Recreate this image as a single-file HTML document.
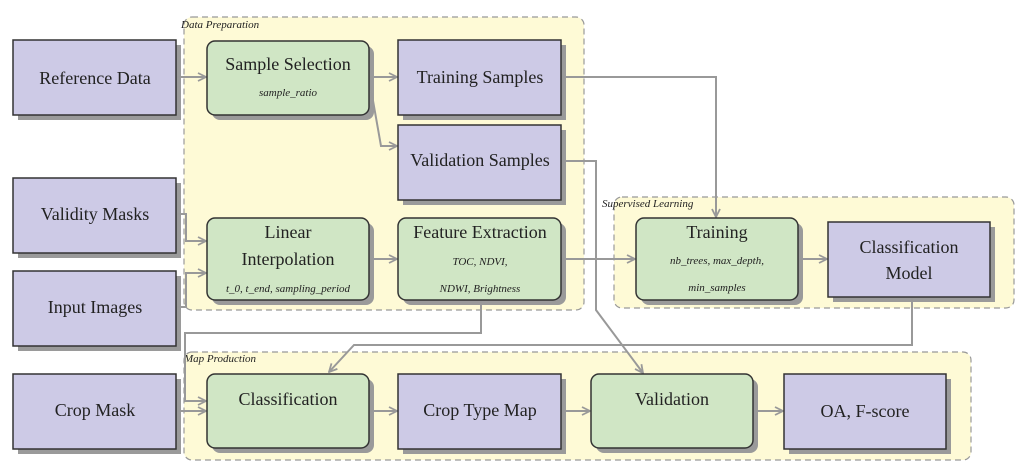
<!DOCTYPE html>
<html><head><meta charset="utf-8"><style>
html,body{margin:0;padding:0;background:#fff;width:1024px;height:473px;overflow:hidden}
svg text{font-family:"Liberation Serif",serif;fill:#222}
.m{font-size:18px}
.i{font-size:11px;font-style:italic}
.c{font-size:11px;font-style:italic}
.p{fill:#cdcae6;stroke:#333;stroke-width:1.5}
.g{fill:#d0e6c5;stroke:#333;stroke-width:1.5}
.s{fill:#9a9a9a}
.l{fill:none;stroke:#999;stroke-width:2}
.cont{fill:#fefad6;stroke:#999;stroke-width:1.2;stroke-dasharray:6,4}
</style></head><body>
<svg width="1024" height="473" viewBox="0 0 1024 473" xmlns="http://www.w3.org/2000/svg">
<defs><marker id="a" markerWidth="10" markerHeight="10" refX="9" refY="5" orient="auto" markerUnits="userSpaceOnUse"><path d="M1,1 L9,5 L1,9" fill="none" stroke="#999" stroke-width="1.8"/></marker></defs>
<!-- containers -->
<rect class="cont" x="184" y="17" width="400" height="293" rx="8"/>
<rect class="cont" x="614" y="197" width="400" height="111" rx="8"/>
<rect class="cont" x="184" y="352" width="787" height="108" rx="8"/>
<text class="c" x="181" y="28">Data  Preparation</text>
<text class="c" x="602" y="207">Supervised  Learning</text>
<text class="c" x="184" y="362">Map  Production</text>
<!-- shadows -->
<g class="s">
<rect x="18" y="45" width="163" height="75"/>
<rect x="18" y="183" width="163" height="75"/>
<rect x="18" y="276" width="163" height="75"/>
<rect x="18" y="379" width="163" height="75"/>
<rect x="212" y="46" width="162" height="74" rx="8"/>
<rect x="403" y="45" width="163" height="75"/>
<rect x="403" y="130" width="163" height="75"/>
<rect x="212" y="223" width="162" height="82" rx="8"/>
<rect x="403" y="223" width="163" height="82" rx="8"/>
<rect x="641" y="223" width="162" height="82" rx="8"/>
<rect x="833" y="227" width="162" height="75"/>
<rect x="212" y="379" width="162" height="74" rx="8"/>
<rect x="403" y="379" width="163" height="75"/>
<rect x="596" y="379" width="162" height="74" rx="8"/>
<rect x="789" y="379" width="162" height="75"/>
</g>
<!-- connectors -->
<path class="l" d="M176,77 H206" marker-end="url(#a)"/>
<path class="l" d="M369,77 H397" marker-end="url(#a)"/>
<path class="l" d="M369,78 L381,146 H397" marker-end="url(#a)"/>
<path class="l" d="M561,77 H716 V217" marker-end="url(#a)"/>
<path class="l" d="M561,161 H596 V310 L643,373" marker-end="url(#a)"/>
<path class="l" d="M176,214 H186 V241 H206" marker-end="url(#a)"/>
<path class="l" d="M176,307 H186 V273 H206" marker-end="url(#a)"/>
<path class="l" d="M369,259 H397" marker-end="url(#a)"/>
<path class="l" d="M561,259 H635" marker-end="url(#a)"/>
<path class="l" d="M798,259 H827" marker-end="url(#a)"/>
<path class="l" d="M481,300 V333 H185 V401 H206" marker-end="url(#a)"/>
<path class="l" d="M912,297 V345 H354 L329,372" marker-end="url(#a)"/>
<path class="l" d="M176,411 H206" marker-end="url(#a)"/>
<path class="l" d="M369,411 H397" marker-end="url(#a)"/>
<path class="l" d="M561,411 H590" marker-end="url(#a)"/>
<path class="l" d="M753,411 H783" marker-end="url(#a)"/>
<!-- boxes -->
<rect class="p" x="13" y="40" width="163" height="75"/>
<rect class="p" x="13" y="178" width="163" height="75"/>
<rect class="p" x="13" y="271" width="163" height="75"/>
<rect class="p" x="13" y="374" width="163" height="75"/>
<rect class="g" x="207" y="41" width="162" height="74" rx="8"/>
<rect class="p" x="398" y="40" width="163" height="75"/>
<rect class="p" x="398" y="125" width="163" height="75"/>
<rect class="g" x="207" y="218" width="162" height="82" rx="8"/>
<rect class="g" x="398" y="218" width="163" height="82" rx="8"/>
<rect class="g" x="636" y="218" width="162" height="82" rx="8"/>
<rect class="p" x="828" y="222" width="162" height="75"/>
<rect class="g" x="207" y="374" width="162" height="74" rx="8"/>
<rect class="p" x="398" y="374" width="163" height="75"/>
<rect class="g" x="591" y="374" width="162" height="74" rx="8"/>
<rect class="p" x="784" y="374" width="162" height="75"/>
<!-- labels -->
<g text-anchor="middle">
<text class="m" x="95" y="84">Reference Data</text>
<text class="m" x="95" y="220">Validity Masks</text>
<text class="m" x="95" y="313">Input Images</text>
<text class="m" x="95" y="416">Crop Mask</text>
<text class="m" x="288" y="70">Sample Selection</text>
<text class="i" x="288" y="96">sample_ratio</text>
<text class="m" x="480" y="83">Training Samples</text>
<text class="m" x="480" y="166">Validation Samples</text>
<text class="m" x="288" y="238">Linear</text>
<text class="m" x="288" y="265">Interpolation</text>
<text class="i" x="288" y="292">t_0,  t_end,  sampling_period</text>
<text class="m" x="480" y="238">Feature Extraction</text>
<text class="i" x="480" y="265">TOC,  NDVI,</text>
<text class="i" x="480" y="292">NDWI,  Brightness</text>
<text class="m" x="717" y="238">Training</text>
<text class="i" x="717" y="264">nb_trees,  max_depth,</text>
<text class="i" x="717" y="291">min_samples</text>
<text class="m" x="909" y="253">Classification</text>
<text class="m" x="909" y="279">Model</text>
<text class="m" x="288" y="405">Classification</text>
<text class="m" x="480" y="416">Crop Type Map</text>
<text class="m" x="672" y="405">Validation</text>
<text class="m" x="865" y="417">OA, F-score</text>
</g>
</svg>
</body></html>
